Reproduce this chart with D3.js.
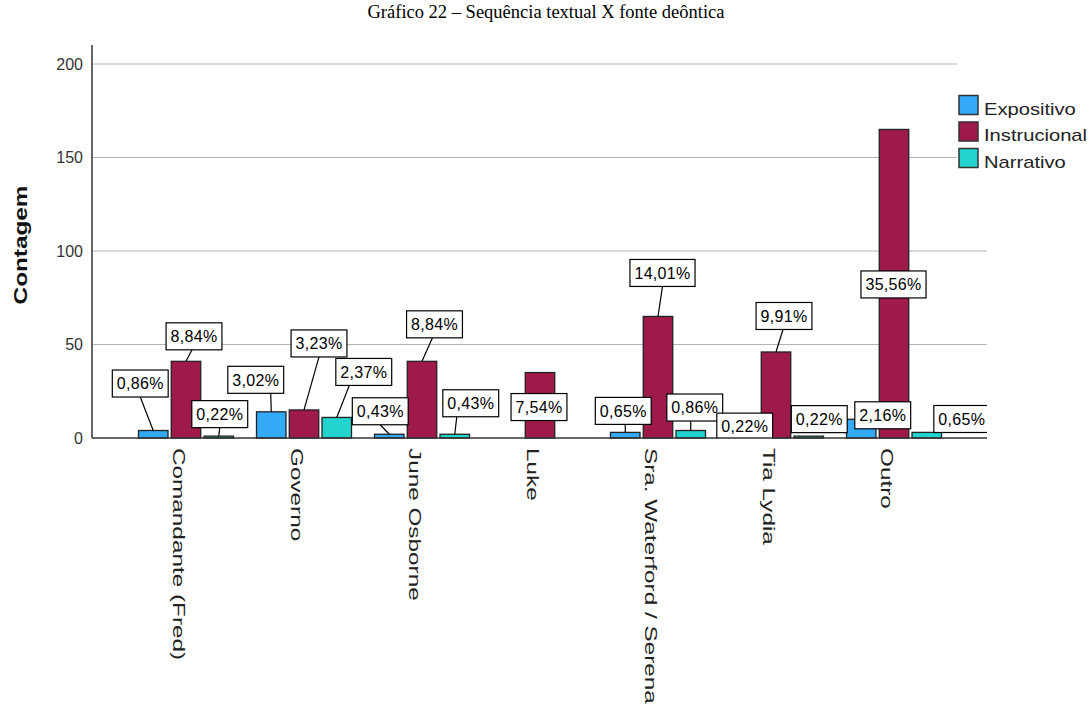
<!DOCTYPE html>
<html>
<head>
<meta charset="utf-8">
<script src="https://cdn.jsdelivr.net/npm/d3@7"></script>
<style>
  html, body { margin: 0; padding: 0; background: #fff; }
  svg { display: block; }
</style>
</head>
<body>
<svg id="chart" width="1090" height="706"></svg>
<script>
// ---------------- DATA ----------------
const title = "Gráfico 22 – Sequência textual X fonte deôntica";
const yTitle = "Contagem";
const categories = ["Comandante (Fred)", "Governo", "June Osborne", "Luke",
                    "Sra. Waterford / Serena", "Tia Lydia", "Outro"];
const seriesNames = ["Expositivo", "Instrucional", "Narrativo"];
const expositivo   = [4, 14, 2, 0, 3, 1, 10];
const instrucional = [41, 15, 41, 35, 65, 46, 165];
const narrativo    = [1, 11, 2, 0, 4, 1, 3];
const yTicks = [0, 50, 100, 150, 200];

// ---------------- LAYOUT / STYLE ----------------
const colors = ["#33aaf8", "#9e1a4a", "#22d4cd"];
// label box offsets relative to bar top: [dx, dy, leaderX] (leaderX null = no leader)
const labelLayout = [
  [[-13,-47,0],[8,-25,-2],[1,-22,0]],
  [[-15.5,-32,15],[15,-66.5,0],[27,-45.5,-14.5]],
  [[-9,-23,0],[12.5,-37,-2],[16,-31,-14]],
  [null,[-1,34.5,null],null],
  [[-2,-21.5,2],[4.5,-43.5,0],[4,-23,-4]],
  [[1.5,-9.5,null],[8,-36,-1],[10.5,-17,null]],
  [[21.5,-4,null],[-0.5,155,null],[35,-13.4,null]]
];

const seriesValues = [expositivo, instrucional, narrativo];
const total = d3.sum(seriesValues.flat());
const fmtPct = v => (v / total * 100).toFixed(2).replace(".", ",") + "%";

const svg = d3.select("#chart");
const plotLeft = 92, plotRight = 987, plotTop = 45, plotBottom = 438;
const FONT = "'Liberation Sans',Arial,sans-serif";

const x0 = d3.scaleBand().domain(categories).range([127, 953]).padding(0);
const x1 = d3.scaleBand().domain(seriesNames).range([-47.5, 47.5]).paddingInner(0.1);
const y = d3.scaleLinear().domain([0, 200]).range([plotBottom, 64]);

svg.append("defs").append("clipPath").attr("id", "plotclip")
  .append("rect").attr("x", plotLeft).attr("y", 0)
  .attr("width", plotRight - plotLeft).attr("height", plotBottom + 1);

// Title
svg.append("text")
  .attr("x", 546).attr("y", 18)
  .attr("text-anchor", "middle")
  .style("font-family", "'Liberation Serif','Times New Roman',serif")
  .style("font-size", "18.5px")
  .attr("fill", "#000")
  .text(title);

// Gridlines
svg.append("g").selectAll("line").data(yTicks.filter(d => d > 0)).join("line")
  .attr("x1", plotLeft).attr("x2", plotRight)
  .attr("y1", d => y(d)).attr("y2", d => y(d))
  .attr("stroke", "#b4b4b4").attr("stroke-width", 1);

// Y axis
const yAxis = svg.append("g").attr("transform", `translate(${plotLeft},0)`)
  .call(d3.axisLeft(y).tickValues(yTicks).tickSize(0).tickPadding(9).tickFormat(d3.format("d")));
yAxis.select(".domain").remove();
yAxis.selectAll("text")
  .style("font-family", FONT)
  .style("font-size", "16px").attr("fill", "#333");

// Y title
svg.append("text")
  .attr("transform", "translate(27,245) rotate(-90) scale(1.35,1)")
  .attr("text-anchor", "middle")
  .style("font-family", FONT)
  .style("font-size", "18px").style("font-weight", "bold")
  .attr("fill", "#111")
  .text(yTitle);

// Bars
const plot = svg.append("g").attr("clip-path", "url(#plotclip)");
const barData = [];
categories.forEach((c, ci) => {
  seriesNames.forEach((s, si) => {
    barData.push({ c, ci, s, si, v: seriesValues[si][ci] });
  });
});
plot.append("g").selectAll("rect").data(barData.filter(d => d.v > 0)).join("rect")
  .attr("x", d => x0(d.c) + x0.bandwidth() / 2 + x1(d.s))
  .attr("y", d => y(d.v))
  .attr("width", x1.bandwidth())
  .attr("height", d => y(0) - y(d.v))
  .attr("fill", d => colors[d.si])
  .attr("stroke", "#222").attr("stroke-width", 1.3);

// Axis lines
svg.append("line").attr("x1", plotLeft).attr("x2", plotLeft).attr("y1", plotTop).attr("y2", plotBottom)
  .attr("stroke", "#333").attr("stroke-width", 1.5);
svg.append("line").attr("x1", plotLeft).attr("x2", plotRight).attr("y1", plotBottom).attr("y2", plotBottom)
  .attr("stroke", "#333").attr("stroke-width", 1.5);

// Value labels
const labG = plot.append("g");
barData.forEach(d => {
  const lay = labelLayout[d.ci][d.si];
  if (!lay || d.v <= 0) return;
  const bx = x0(d.c) + x0.bandwidth() / 2 + x1(d.s) + x1.bandwidth() / 2;
  const by = y(d.v);
  const cx = bx + lay[0], cy = by + lay[1];
  const g = labG.append("g");
  const t = g.append("text")
    .attr("x", cx).attr("y", cy)
    .attr("text-anchor", "middle").attr("dy", "0.36em")
    .style("font-family", FONT)
    .style("font-size", "16px").style("letter-spacing", "0.3px")
    .attr("fill", "#000")
    .text(fmtPct(d.v));
  const w = t.node().getComputedTextLength() + 9;
  const h = 27;
  if (lay[2] !== null) {
    g.insert("line", "text")
      .attr("x1", bx).attr("y1", by)
      .attr("x2", cx + lay[2]).attr("y2", cy + h / 2)
      .attr("stroke", "#000").attr("stroke-width", 1.2);
  }
  g.insert("rect", "text")
    .attr("x", cx - w / 2).attr("y", cy - h / 2)
    .attr("width", w).attr("height", h)
    .attr("fill", "#fff").attr("stroke", "#000").attr("stroke-width", 1.2);
});

// X axis category labels (stretched along reading direction, as in the reference)
const xStretch = 1.52;
const xAxis = svg.append("g").attr("transform", `translate(0,${plotBottom})`)
  .call(d3.axisBottom(x0).tickSize(0));
xAxis.select(".domain").remove();
xAxis.selectAll("text")
  .attr("transform", `rotate(90) scale(${xStretch},1)`)
  .attr("x", 10 / xStretch).attr("y", 13).attr("dy", 0)
  .attr("text-anchor", "start")
  .style("font-family", FONT)
  .style("font-size", "16px")
  .attr("fill", "#222");

// Legend
svg.append("rect").attr("x", 957).attr("y", 55).attr("width", 133).attr("height", 120).attr("fill", "#fff");
const leg = svg.append("g").selectAll("g").data(seriesNames).join("g")
  .attr("transform", (d, i) => `translate(959,${95.5 + i * 26.5})`);
leg.append("rect").attr("width", 19).attr("height", 19)
  .attr("fill", (d, i) => colors[i]).attr("stroke", "#333").attr("stroke-width", 1.5);
leg.append("text")
  .attr("transform", "translate(25,19) scale(1.26,1)")
  .style("font-family", FONT)
  .style("font-size", "16px")
  .attr("fill", "#222")
  .text(d => d);
</script>
</body>
</html>
